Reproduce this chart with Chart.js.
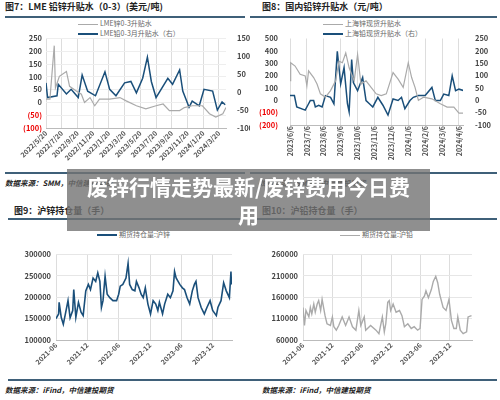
<!DOCTYPE html>
<html><head><meta charset="utf-8">
<script src="https://cdn.jsdelivr.net/npm/chart.js@4"></script>
<style>
body{margin:0;width:500px;height:400px;position:relative;background:#fff;font-family:"Noto Sans CJK SC","Noto Sans",sans-serif;overflow:hidden}
.a{position:absolute}
.t{font-size:9px;font-weight:bold;color:#222;white-space:nowrap}
.r{height:2px;background:#3f6079}
.lg{font-size:7px;color:#666;white-space:nowrap}
.ll{display:inline-block;width:20px;height:0;vertical-align:middle;margin-right:2px}
.src{font-size:7.5px;font-weight:bold;font-style:italic;color:#222;white-space:nowrap}
canvas{position:absolute}
</style></head><body>
<div class="a t" style="left:5px;top:0px">图7：LME 铅锌升贴水（0-3）(美元/吨)</div>
<div class="a r" style="left:5px;top:16px;width:240px"></div>
<div class="a lg" style="left:78px;top:18px"><span class="ll" style="border-top:1.5px solid #aaa"></span>LME锌0-3升贴水</div>
<div class="a lg" style="left:78px;top:28px"><span class="ll" style="border-top:2px solid #1a4f7a"></span>LME铅0-3月升贴水（右）</div>
<div class="a r" style="left:5px;top:172px;width:240px"></div>
<div class="a src" style="left:5px;top:177px">数据来源：SMM，中信建投期货</div>

<div class="a t" style="left:262px;top:0px">图8：国内铅锌升贴水（元/吨）</div>
<div class="a r" style="left:250px;top:16px;width:247px"></div>
<div class="a lg" style="left:323px;top:18px"><span class="ll" style="border-top:1.5px solid #aaa"></span>上海锌现货升贴水</div>
<div class="a lg" style="left:323px;top:28px"><span class="ll" style="border-top:2px solid #1a4f7a"></span>上海铅现货升贴水（右）</div>
<div class="a r" style="left:250px;top:172px;width:247px"></div>
<div class="a src" style="left:258px;top:177px">数据来源：SMM，中信建投期货</div>

<div class="a t" style="left:14px;top:204px">图9：沪锌持仓量（手）</div>
<div class="a r" style="left:8px;top:218px;width:237px"></div>
<div class="a lg" style="left:97px;top:229px"><span class="ll" style="border-top:2px solid #1a4f7a"></span>期货持仓量:沪锌</div>
<div class="a r" style="left:8px;top:379px;width:242px"></div>
<div class="a src" style="left:5px;top:384px">数据来源：iFind，中信建投期货</div>

<div class="a t" style="left:262px;top:204px">图10：沪铅持仓量（手）</div>
<div class="a r" style="left:250px;top:218px;width:247px"></div>
<div class="a lg" style="left:340px;top:229px"><span class="ll" style="border-top:1.5px solid #aaa"></span>期货持仓量:沪铅</div>
<div class="a r" style="left:250px;top:379px;width:247px"></div>
<div class="a src" style="left:262px;top:384px">数据来源：iFind，中信建投期货</div>

<canvas id="c1" width="250" height="140" style="left:0;top:30px;width:250px;height:140px"></canvas>
<canvas id="c2" width="250" height="137" style="left:250px;top:30px;width:250px;height:137px"></canvas>
<canvas id="c3" width="250" height="123" style="left:0;top:245px;width:250px;height:123px"></canvas>
<canvas id="c4" width="250" height="123" style="left:250px;top:245px;width:250px;height:123px"></canvas>

<div class="a" style="left:67px;top:169px;width:363px;height:62px;background:rgba(115,115,115,0.8);color:#fff;font-weight:bold;font-size:21px;line-height:28px;text-align:center;padding-top:3px;box-sizing:border-box">废锌行情走势最新/废锌费用今日费<br>用</div>
<script>
// Chart 7
const c1Labels=['2022/5/20','2022/7/20','2022/9/20','2022/11/20','2023/1/20','2023/3/20','2023/5/20','2023/7/20','2023/9/20','2023/11/20','2024/1/20','2024/3/20'];
const zincLmeX=[0,0.5,1.05,1.2,1.7,2.6,3,3.9,4.5,4.9,5.6,6.2,6.8,8.1,9.4,10.2,11.5,12.7,14,14.9,15.7,17,17.6,18.6,19.9,20.8,21.6,22.5,22.9];
const zincLmeY=[13,13,222,57,102,121,63,44,32,0,19,-13,13,13,19,6,-13,-25,-13,-6,-32,-32,-20,-13,-13,-44,-57,-44,-20];
const leadLmeX=[0,0.2,1.4,1.56,2.6,3.2,4.1,4.6,5.3,6.3,7.5,8.1,8.9,10,10.8,11.5,12.3,12.9,13.4,14,15.5,16.1,17,17.4,18.2,18.6,19.5,20.1,21.2,21.8,22.4,22.8];
const leadLmeY=[26,-15,-10,22,-5,8,-15,48,3,-10,57,8,-10,26,30,-2,39,98,30,-15,39,22,62,3,-42,-25,-38,8,3,-50,-27,-35];
// Chart 8
const c2Labels=['2023/6/6','2023/7/6','2023/8/6','2023/9/6','2023/10/6','2023/11/6','2023/12/6','2024/1/6','2024/2/6','2024/3/6','2024/4/6'];
const zincShX=[0,0.04,0.3,0.6,0.9,1,1.1,1.4,1.6,1.8,2.1,2.4,2.7,2.9,3.1,3.3,3.5,3.8,4,4.2,4.5,4.8,5.1,5.4,5.7,6.1,6.4,6.7,7,7.2,7.4,7.6,7.9,8.4,8.9,9.3,9.7,10,10.3];
const zincShY=[158,304,277,210,197,118,238,184,131,52,25,78,158,317,304,383,263,158,370,131,158,105,52,38,52,224,171,105,304,184,105,-1,25,12,-28,-55,-55,-104,-104];
const leadShX=[0,0.26,0.4,0.9,1.1,1.2,1.4,1.5,1.7,1.9,2.1,2.4,2.6,2.8,3,3.2,3.4,3.5,3.65,3.75,4,4.3,4.5,4.7,4.9,5.2,5.5,5.8,6.1,6.4,6.6,6.8,7.1,7.3,7.6,8,8.4,8.6,8.9,9.1,9.4,9.6,9.8,10,10.3];
const leadShY=[19,19,-27,-40,-14,-1,-1,-27,-20,-27,19,12,-14,198,66,132,-14,-47,165,72,39,92,-1,-14,-27,12,-20,-60,5,-1,12,-34,-1,12,19,19,52,-1,-1,25,19,99,39,45,39];
// Chart 9 / 10
const oiLabels=['2021-06','2021-12','2022-06','2022-12','2023-06','2023-12'];
const zincOiX=[0,0.5,0.6,1,1.4,1.8,2.3,2.7,3.2,3.4,3.8,4.3,4.8,5.2,5.7,6.2,6.6,7.1,7.6,8,8.4,8.7,9,9.4,9.8,10.3,10.9,11.6,12,12.3,12.8,13.4,13.8,14.1,14.6,15.1,15.4,15.9,16.3,16.7,17.1,17.6,18.1,18.6,19.1,19.5,19.8,20.4,20.8,21.4,21.9,22.4,22.7,23,23.7,24.2,24.6,25.1,25.6,26.1,26.5,26.8,27.2,27.8,28.4,28.9,29.5,30,30.7,31,31.6,32.1,32.6,33.2,33.5,33.6];
const zincOiY=[150,161,188,153,137,161,192,152,169,218,153,188,165,157,215,230,218,245,237,257,237,176,192,249,207,199,192,192,207,226,230,245,279,230,218,215,237,222,207,199,222,184,161,192,184,169,188,161,184,207,199,215,260,245,230,222,218,199,184,215,230,237,199,176,161,176,192,169,157,176,192,234,215,199,260,230];
const leadOiX=[0,0.3,0.6,1.2,1.5,1.8,2.2,2.5,2.9,3.2,3.6,3.9,4.5,4.9,5.6,6,6.3,6.8,7.3,8,8.7,9.4,10.1,10.8,11.4,11.8,12.5,12.8,13.8,14.9,15.5,16.2,16.6,16.9,17.3,17.6,17.9,18.4,19,19.7,20.2,20.7,21.4,22.1,22.7,23.4,23.9,24.3,24.8,25.1,25.6,26.2,26.6,27.1,27.5,27.9,28.6,29.2,29.8,30.3,30.8,31.3,31.6,32.1,32.7,33.4,33.7,34.4];
const leadOiY=[136,94,129,114,136,121,144,125,144,152,129,155,117,98,94,114,91,83,94,114,94,114,91,83,129,94,114,83,94,83,75,114,79,98,148,152,129,144,125,129,117,91,98,87,91,83,87,155,163,175,159,178,197,209,194,167,136,129,155,106,87,87,114,83,75,79,114,117];

const zip=(xs,ys,k=1)=>xs.map((x,i)=>({x,y:ys[i]*k}));
const F='"Noto Sans CJK SC","Noto Sans",sans-serif';
Chart.defaults.font.family=F;Chart.defaults.font.size=7.5;Chart.defaults.color='#333';
const BLUE='#1a4f7a',GRAY='#aaa';
function fitW(w){return s=>{s.width=w}}
function fitH(h){return s=>{s.height=h}}
function xAxis(max,step,labels,rot,h){
 return {type:'linear',min:0,max,afterFit:fitH(h),
  afterBuildTicks:s=>{s.ticks=labels.map((l,i)=>({value:i*step}))},
  ticks:{autoSkip:false,maxRotation:rot,minRotation:rot,padding:1,font:{size:7,weight:'bold'},color:'#555',callback:(v,i)=>labels[i]},
  grid:{color:'#ddd',drawTicks:false},border:{color:'#bbb'}};
}
function neg(v){return v<0?'('+(-v)+')':String(v)}
const base={responsive:false,animation:false,plugins:{legend:{display:false},tooltip:{enabled:false}},elements:{point:{radius:0},line:{tension:0}}};

new Chart(c1,{type:'line',data:{datasets:[
 {data:zip(zincLmeX,zincLmeY),borderColor:GRAY,borderWidth:1.2,yAxisID:'y'},
 {data:zip(leadLmeX,leadLmeY),borderColor:BLUE,borderWidth:1.5,yAxisID:'y2'}]},
 options:{...base,layout:{padding:{top:6}},scales:{
  x:xAxis(22.9,2,c1Labels,45,42),
  y:{min:-100,max:250,afterFit:fitW(46),ticks:{stepSize:50,padding:4,font:{size:7.5,weight:'bold'},callback:neg,color:c=>c.tick.value<0?'#e00':'#444'},grid:{color:'#eee',drawTicks:false},border:{display:false}},
  y2:{position:'right',min:-100,max:150,afterFit:fitW(24),ticks:{stepSize:50,padding:3,font:{size:7.5,weight:'bold'},color:'#444',callback:v=>String(v)},grid:{display:false},border:{display:false}}}}});

new Chart(c2,{type:'line',data:{datasets:[
 {data:zip(zincShX,zincShY),borderColor:GRAY,borderWidth:1.2,yAxisID:'y'},
 {data:zip(leadShX,leadShY),borderColor:BLUE,borderWidth:1.5,yAxisID:'y2'}]},
 options:{...base,layout:{padding:{top:7}},scales:{
  x:xAxis(10.24,1,c2Labels,90,42),
  y:{min:-200,max:500,afterFit:fitW(40),ticks:{stepSize:100,padding:4,font:{size:7.5,weight:'bold'},callback:neg,color:c=>c.tick.value<0?'#e00':'#444'},grid:{display:false},border:{display:false}},
  y2:{position:'right',min:-100,max:250,afterFit:fitW(37),ticks:{stepSize:50,padding:4,font:{size:7.5,weight:'bold'},color:'#444',callback:v=>String(v)},grid:{display:false},border:{display:false}}}}});

function oi(el,xs,ys,color,xmax,min,max,w,pr){
 new Chart(el,{type:'line',data:{datasets:[{data:zip(xs,ys,1000),borderColor:color,borderWidth:color===BLUE?1.6:1.4}]},
 options:{...base,layout:{padding:{top:8,right:pr}},scales:{
  x:xAxis(xmax,6,oiLabels,45,28),
  y:{min,max,afterFit:fitW(w),ticks:{stepSize:50000,padding:5,font:{size:7.5,weight:'bold'},color:'#444',callback:v=>String(v)},grid:{color:'#e6e6e6',drawTicks:false},border:{display:false}}}}});
}
oi(c3,zincOiX,zincOiY,BLUE,33.7,100000,300000,56,18);
oi(c4,leadOiX,leadOiY,GRAY,34.5,60000,260000,53,28);
</script></body></html>
